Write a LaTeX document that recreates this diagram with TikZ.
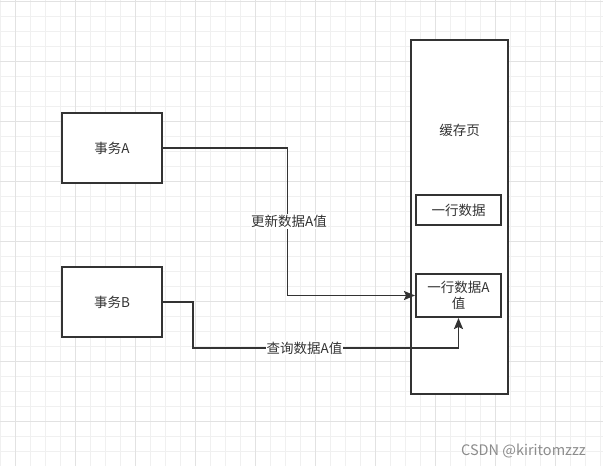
\documentclass[tikz,border=0pt]{standalone}
\usepackage{fontspec}
\setmainfont{Noto Sans CJK SC}
\usetikzlibrary{arrows.meta}
\definecolor{inkgray}{RGB}{51,51,51}
\definecolor{gridminor}{RGB}{240,240,240}
\definecolor{gridmajor}{RGB}{226,226,226}
\definecolor{markgray}{RGB}{140,140,140}

\begin{document}
\begin{tikzpicture}[
    x=1pt, y=1pt,
    box/.style={rectangle, draw=inkgray, line width=2pt, fill=white, text=inkgray, align=center, inner sep=0pt, font=\fontsize{13.5}{16}\selectfont},
    arrow/.style={-{Stealth[length=11pt,width=9pt,inset=2pt]}, line width=1.8pt, draw=inkgray},
    label/.style={fill=white, text=inkgray, inner sep=1pt, font=\fontsize{13.5}{16}\selectfont},
    gridfine/.style={draw=gridminor, line width=0.8pt},
    gridbold/.style={draw=gridmajor, line width=0.8pt}
]
\useasboundingbox (0,0) rectangle (603,466);
\fill[white] (0,0) rectangle (603,466);

% Grid
\foreach \i in {0,...,40} \draw[gridfine] ({0.7+15*\i},0) -- ++(0,466);
\foreach \i in {0,...,31} \draw[gridfine] (0,{465-15*\i}) -- ++(603,0);
\foreach \i in {0,...,9} \draw[gridbold] ({15.7+60*\i},0) -- ++(0,466);
\foreach \i in {0,...,7} \draw[gridbold] (0,{465-60*\i}) -- ++(603,0);

% Transactions
\node[box, minimum width=100pt, minimum height=70pt] (txa) at (112,318) {事务A};
\node[box, minimum width=100pt, minimum height=70pt] (txb) at (112,164) {事务B};

% Cache page
\node[box, minimum width=97pt, minimum height=354pt] (page) at (459.5,249) {};
\node[label, fill=none] (pagelbl) at (459.5,336) {缓存页};
\node[box, minimum width=85pt, minimum height=30pt] (row) at (458.5,256) {一行数据};
\node[box, minimum width=85pt, minimum height=43pt] (rowa) at (458.5,170.5) {一行数据A\\值};

% Arrows
\coordinate (bendA) at ([xshift=-127.5pt]rowa.west);
\coordinate (bendB) at ([yshift=-30pt]rowa.south);
\draw[arrow] (txa.east) -| node[label, pos=0.75, xshift=1.5pt] {更新数据A值} (bendA) -- (rowa.west);
\draw[arrow] (txb.east) -- ++(30,0) |- node[label, pos=0.71] {查询数据A值} (bendB) -- (rowa.south);

% Watermark
\node[text=markgray, font=\fontsize{14.5}{16}\selectfont, inner sep=0pt] (mark) at (523.5,15) {CSDN @kiritomzzz};
\end{tikzpicture}
\end{document}
